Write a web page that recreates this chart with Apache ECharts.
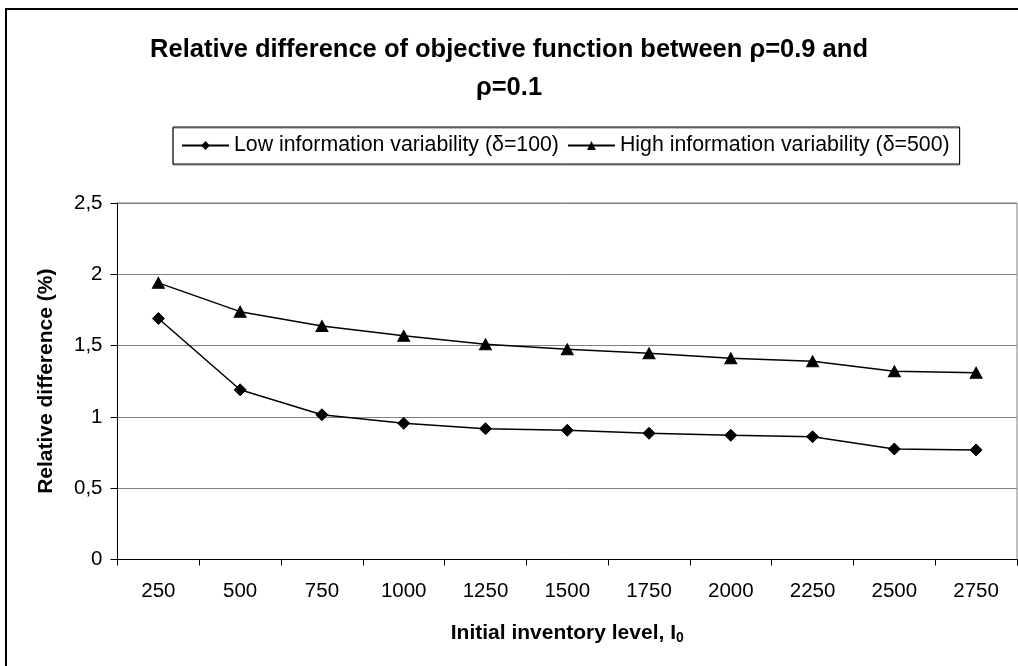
<!DOCTYPE html>
<html>
<head>
<meta charset="utf-8">
<script src="https://cdn.jsdelivr.net/npm/echarts@6/dist/echarts.min.js"></script>
<style>
  html, body { margin: 0; padding: 0; background: #fff; }
  #chart { width: 1018px; height: 666px; }
</style>
</head>
<body>
<div id="chart"></div>
<script>
// Initial inventory levels on the category axis
const inventoryLevels = ['250', '500', '750', '1000', '1250', '1500', '1750', '2000', '2250', '2500', '2750'];
// Relative difference (%) for delta = 100
const lowVariability = [1.69, 1.19, 1.015, 0.955, 0.917, 0.906, 0.885, 0.871, 0.861, 0.775, 0.768];
// Relative difference (%) for delta = 500
const highVariability = [1.94, 1.738, 1.637, 1.569, 1.509, 1.474, 1.446, 1.411, 1.39, 1.32, 1.31];
const yTicks = [0, 0.5, 1, 1.5, 2, 2.5];

const seriesNames = ['Low information variability (δ=100)', 'High information variability (δ=500)'];
const font = 'Liberation Sans, Arial, sans-serif';

const chart = echarts.init(document.getElementById('chart'));
chart.setOption({
  backgroundColor: '#fff',
  animation: false,
  textStyle: { fontFamily: font, color: '#000' },
  title: {
    text: 'Relative difference of objective function between ρ=0.9 and\nρ=0.1',
    left: 'center',
    top: 26,
    textStyle: { fontFamily: font, fontSize: 25.5, fontWeight: 'bold', color: '#000', lineHeight: 38 }
  },
  legend: {
    data: seriesNames,
    top: 127,
    left: 173,
    padding: [8, 10, 8, 8],
    itemWidth: 47,
    itemHeight: 11,
    itemGap: 8,
    borderColor: '#000',
    borderWidth: 1,
    shadowColor: 'rgba(0,0,0,0.5)',
    shadowOffsetY: 1,
    textStyle: { fontFamily: font, fontSize: 21.3, color: '#000' }
  },
  grid: {
    left: 117.5,
    right: 1,
    top: 203,
    bottom: 106.5,
    show: true,
    borderColor: '#808080',
    borderWidth: 1
  },
  xAxis: {
    type: 'category',
    data: inventoryLevels,
    boundaryGap: true,
    name: 'Initial inventory level, {sub|I}{s|0}',
    nameLocation: 'middle',
    nameGap: 62,
    nameTextStyle: {
      fontFamily: font, fontSize: 21, fontWeight: 'bold', color: '#000',
      rich: {
        sub: { fontFamily: font, fontSize: 21, fontWeight: 'bold', color: '#000' },
        s: { fontFamily: font, fontSize: 14, fontWeight: 'bold', color: '#000', verticalAlign: 'bottom', padding: [10, 0, 0, 0] }
      }
    },
    axisLine: { lineStyle: { color: '#000', width: 1 } },
    axisTick: { show: true, length: 6, lineStyle: { color: '#000' } },
    axisLabel: { fontFamily: font, fontSize: 20.5, color: '#000', margin: 21 },
    splitLine: { show: false }
  },
  yAxis: {
    type: 'value',
    min: 0,
    max: 2.5,
    interval: 0.5,
    name: 'Relative difference (%)',
    nameLocation: 'middle',
    nameGap: 61,
    nameRotate: 90,
    nameTextStyle: { fontFamily: font, fontSize: 21, fontWeight: 'bold', color: '#000' },
    axisLine: { show: true, lineStyle: { color: '#000', width: 1 } },
    axisTick: { show: true, length: 7, lineStyle: { color: '#000' } },
    axisLabel: {
      fontFamily: font, fontSize: 20.5, color: '#000', margin: 15,
      formatter: v => yTicks.includes(v) ? String(v).replace('.', ',') : ''
    },
    splitLine: { show: true, lineStyle: { color: '#808080', width: 1 } }
  },
  series: [
    {
      name: seriesNames[0],
      type: 'line',
      data: lowVariability,
      symbol: 'diamond',
      symbolSize: [12, 12],
      lineStyle: { color: '#000', width: 1.5 },
      itemStyle: { color: '#000', borderColor: '#000' }
    },
    {
      name: seriesNames[1],
      type: 'line',
      data: highVariability,
      symbol: 'triangle',
      symbolSize: [12, 11],
      lineStyle: { color: '#000', width: 1.5 },
      itemStyle: { color: '#000', borderColor: '#000' }
    }
  ],
  graphic: [
    {
      type: 'rect',
      left: 5,
      top: 8,
      shape: { width: 1040, height: 700 },
      style: { fill: 'transparent', stroke: '#000', lineWidth: 2 },
      silent: true,
      z: 100
    }
  ]
});
</script>
</body>
</html>
